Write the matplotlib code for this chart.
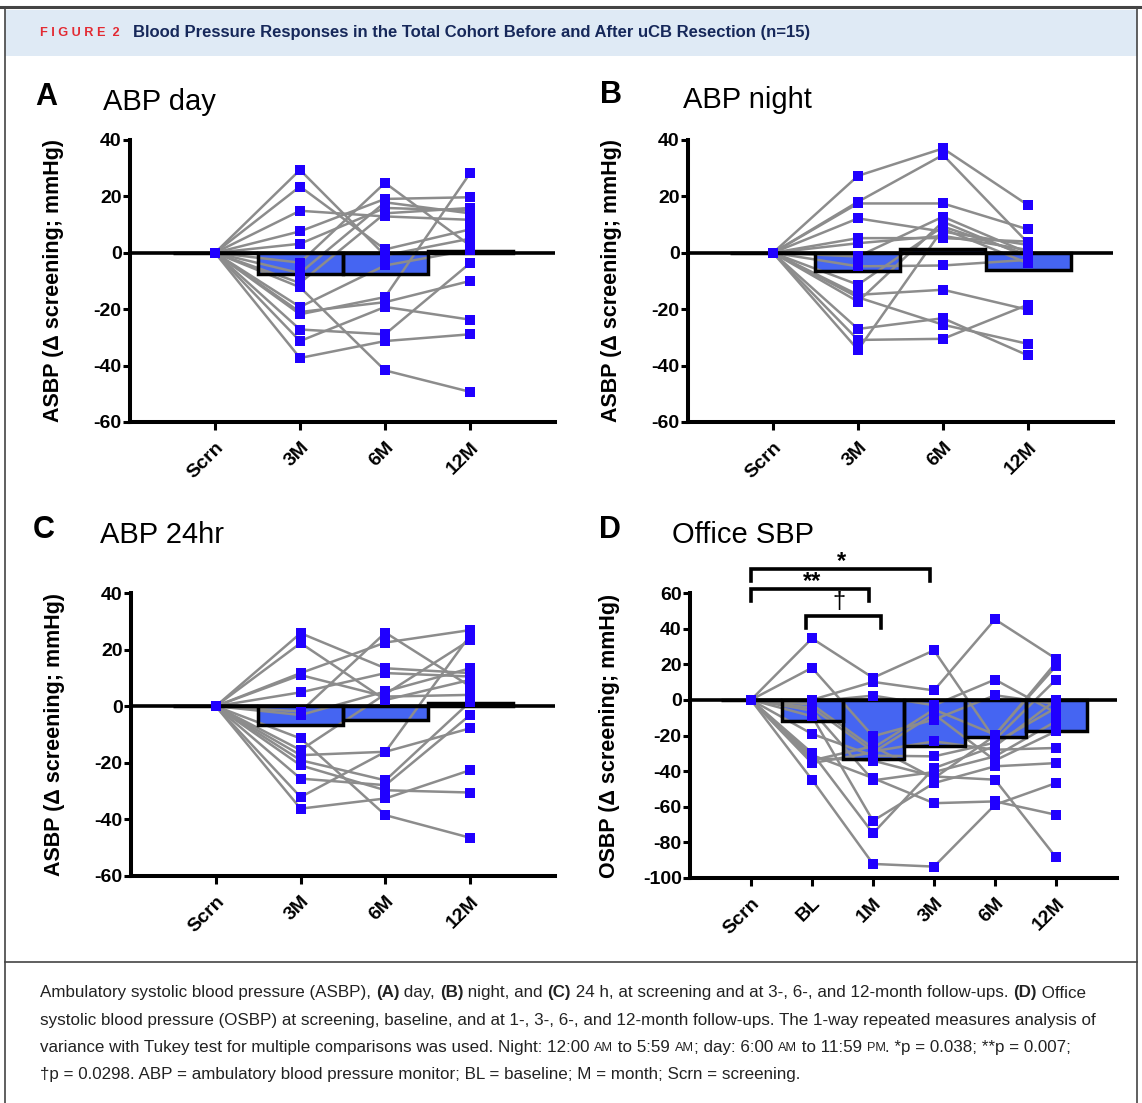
import numpy as np
import matplotlib.pyplot as plt
from matplotlib.lines import Line2D
from matplotlib.patches import Rectangle

plt.rcParams['font.family'] = ['Liberation Sans', 'DejaVu Sans']

W, H = 1142, 1103

# categories
cats_abp = ['Scrn', '3M', '6M', '12M']
cats_office = ['Scrn', 'BL', '1M', '3M', '6M', '12M']

# A: ABP day, change from screening (one entry per patient)
day_3m = [29.4, 23.5, 14.9, 7.6, 3.2, -3.5, -7.2, -10.7, -12.2, -19.2, -21.0, -21.8, -27.2, -31.3, -37.3]
day_6m = [-0.9, 1.2, 12.9, 19.1, 15.9, 24.8, 17.9, 14.0, -41.7, -4.5, -17.5, -15.7, -28.9, -19.2, -31.3]
day_12m = [5.0, 8.3, 11.7, 19.7, 15.0, 2.6, 14.0, 15.9, -49.3, 1.0, -10.0, 28.2, -3.7, -23.7, -28.9]
day_bars = [0, -7.5, -7.5, 0.5]

# B: ABP night
night_3m = [27.3, 18.1, 17.5, 12.2, 5.2, 3.4, -1.3, -4.8, -11.3, -14.9, -15.8, -17.3, -27.0, -30.9, -34.4]
night_6m = [37.0, 34.7, 17.5, 7.5, 5.2, 6.0, 12.8, -4.5, 9.3, -13.1, -25.5, 11.0, -23.2, -30.5, 8.5]
night_12m = [16.9, 3.5, 8.3, 2.8, 4.0, 1.0, 0.0, -2.5, -0.7, -20.2, -32.3, -1.5, -36.4, -18.4, -3.7]
night_bars = [0, -6.5, 1.5, -6.0]

# C: ABP 24hr
h24_3m = [25.8, 22.3, 11.7, 11.0, 4.9, -1.9, -3.1, -11.4, -15.5, -17.3, -19.1, -20.9, -25.6, -32.1, -36.2]
h24_6m = [13.4, 2.2, 22.5, 3.4, 11.7, 26.0, 5.2, -38.5, 4.3, -16.1, -26.2, -29.7, -27.9, -16.1, -32.6]
h24_12m = [11.7, 9.3, 26.9, 4.0, 10.5, 7.0, 13.4, -46.5, 23.4, -7.8, 1.6, -30.5, -3.1, 25.1, -22.6]
h24_bars = [0, -6.5, -5.0, 1.2]

# D: office SBP
off_bl = [34.5, 18.0, 0.0, -1.0, -2.6, -4.5, -6.0, -9.2, -19.1, -29.8, -32.6, -35.5, -44.8, -31.0, -34.0]
off_1m = [12.4, -20.4, 10.1, 2.4, -27.0, -28.9, -45.2, -67.9, -31.3, -74.9, -34.1, -29.5, -92.1, -43.9, -26.0]
off_3m = [27.8, -11.1, 5.3, -3.0, -5.4, -23.3, -40.5, -46.7, -31.7, -38.3, -43.0, -8.0, -93.6, -58.0, -44.0]
off_6m = [-22.3, 2.6, 45.2, 11.4, -19.5, -28.0, -31.7, -37.3, -24.0, -26.0, -44.8, -34.0, -58.9, -57.0, -20.0]
off_12m = [11.4, -2.3, 23.1, -7.3, 19.0, -27.0, -12.0, -35.5, -4.5, 0.0, -88.4, -17.6, -46.7, -64.5, 21.0]
off_bars = [0, -12, -33, -26, -21, -17.5]

# significance brackets in D: (from, to, height, label, label x, label baseline)
brackets = [(0, 2.93, 73.6, '*', 1.48, 74.3),
            (0, 1.93, 62.4, '**', 1.0, 63.0),
            (0.9, 2.13, 47.2, '\u2020', 1.44, 51.7)]

BAR = '#4565F2'
DOT = '#2000FF'
GREY = '#8C8C8C'

fig = plt.figure(figsize=(W / 100, H / 100), dpi=100)


def fx(px):
    return px / W


def fy(py):
    return 1 - py / H


def panel(rect, cats, series, bars, ylim, yticks, ylabel, lab_x):
    ax = fig.add_axes(rect)
    n = len(cats)
    x = np.arange(n)
    vals = np.column_stack([np.zeros(len(series[0]))] + [np.array(s) for s in series])
    ax.bar(x, bars, width=1.0, color=BAR, edgecolor='none', zorder=2)
    ax.bar(x, bars, width=1.0, fill=False, edgecolor='black', linewidth=2.5, zorder=3.5)
    for row in vals:
        ax.plot(x, row, color=GREY, lw=1.8, zorder=3)
    for i in range(n):
        ax.plot(np.full(len(vals), i), vals[:, i], 's', ms=6.5, mew=0, color=DOT, zorder=4)
    ax.axhline(0, color='black', lw=2.6, zorder=3.6)
    ax.set_xlim(-1, n)
    ax.set_ylim(*ylim)
    for s in ['top', 'right']:
        ax.spines[s].set_visible(False)
    for s in ['left', 'bottom']:
        ax.spines[s].set_linewidth(2.9)
    ax.set_xticks(x)
    ax.set_xticklabels(cats, rotation=45, ha='right', va='top', rotation_mode='anchor',
                       fontweight='bold', fontsize=14)
    ax.set_yticks(yticks)
    ax.set_yticklabels([str(v) for v in yticks], fontweight='bold', fontsize=14)
    ax.tick_params(axis='y', width=2.2, length=5, pad=1)
    ax.tick_params(axis='x', width=2.2, length=6, pad=6)
    ax.set_ylabel(ylabel, fontweight='bold', fontsize=15.5)
    ax.yaxis.set_label_coords(lab_x, 0.5)
    return ax


ticks_abp = [-60, -40, -20, 0, 20, 40]
ticks_off = [-100, -80, -60, -40, -20, 0, 20, 40, 60]

axA = panel([fx(130), fy(422), fx(425), 282 / H], cats_abp, [day_3m, day_6m, day_12m],
            day_bars, (-60, 40), ticks_abp, 'ASBP (\u0394 screening; mmHg)', -0.155)
axB = panel([fx(688), fy(422), fx(425), 282 / H], cats_abp, [night_3m, night_6m, night_12m],
            night_bars, (-60, 40), ticks_abp, 'ASBP (\u0394 screening; mmHg)', -0.155)
axC = panel([fx(131), fy(876), fx(424), 283 / H], cats_abp, [h24_3m, h24_6m, h24_12m],
            h24_bars, (-60, 40), ticks_abp, 'ASBP (\u0394 screening; mmHg)', -0.155)
axD = panel([fx(690), fy(878), fx(427), 285 / H], cats_office,
            [off_bl, off_1m, off_3m, off_6m, off_12m],
            off_bars, (-100, 60), ticks_off, 'OSBP (\u0394 screening; mmHg)', -0.165)

for x1, x2, y, lab, lx, ly in brackets:
    axD.plot([x1, x1, x2, x2], [y - 6.7, y, y, y - 6.7], color='black', lw=2.6,
             clip_on=False, solid_joinstyle='miter')
    weight = 'normal' if lab == '\u2020' else 'bold'
    axD.text(lx, ly, lab, ha='center', va='baseline', fontsize=17, fontweight=weight)

# panel letters and titles
for px, py, letter, tx, title in [(35, 97, 'A', 103, 'ABP day'), (600, 95, 'B', 683, 'ABP night'),
                                  (33, 530, 'C', 100, 'ABP 24hr'), (599, 530, 'D', 672, 'Office SBP')]:
    fig.text(fx(px), fy(py), letter, fontsize=22, fontweight='bold', va='center')
    fig.text(fx(tx), fy(py + 5), title, fontsize=21, va='center')

# frame and header band
fig.add_artist(Rectangle((fx(5), fy(56)), fx(1132), 46 / H, transform=fig.transFigure,
                         facecolor='#DFEAF5', edgecolor='none'))
fig.add_artist(Line2D([0, 1], [fy(7), fy(7)], color='#444444', lw=2.2))
fig.add_artist(Line2D([fx(5), fx(5)], [fy(8), 0], color='#444444', lw=1.2))
fig.add_artist(Line2D([fx(1137), fx(1137)], [fy(8), 0], color='#444444', lw=1.2))
fig.add_artist(Line2D([fx(5), fx(1137)], [fy(962), fy(962)], color='#444444', lw=1.2))

renderer = fig.canvas.get_renderer()


def runs(x, y, pieces, size, color):
    for s, weight, scale in pieces:
        t = fig.text(fx(x), fy(y), s, fontsize=size * scale, fontweight=weight, color=color,
                     va='center')
        x += t.get_window_extent(renderer).width


runs(40, 33, [('F I G U R E  2', 'bold', 1.0)], 9.2, '#E32B33')
runs(133, 33, [('Blood Pressure Responses in the Total Cohort Before and After uCB Resection (n=15)',
                'bold', 1.0)], 12, '#16285A')

cap = [
    [('Ambulatory systolic blood pressure (ASBP), ', 'normal', 1), ('(A)', 'bold', 1), (' day, ', 'normal', 1),
     ('(B)', 'bold', 1), (' night, and ', 'normal', 1), ('(C)', 'bold', 1),
     (' 24 h, at screening and at 3-, 6-, and 12-month follow-ups. ', 'normal', 1), ('(D)', 'bold', 1),
     (' Office', 'normal', 1)],
    [('systolic blood pressure (OSBP) at screening, baseline, and at 1-, 3-, 6-, and 12-month follow-ups. '
      'The 1-way repeated measures analysis of', 'normal', 1)],
    [('variance with Tukey test for multiple comparisons was used. Night: 12:00 ', 'normal', 1),
     ('AM', 'normal', 0.75), (' to 5:59 ', 'normal', 1), ('AM', 'normal', 0.75), ('; day: 6:00 ', 'normal', 1),
     ('AM', 'normal', 0.75), (' to 11:59 ', 'normal', 1), ('PM', 'normal', 0.75),
     ('. *p = 0.038; **p = 0.007;', 'normal', 1)],
    [('\u2020p = 0.0298. ABP = ambulatory blood pressure monitor; BL = baseline; M = month; '
      'Scrn = screening.', 'normal', 1)],
]
for i, line in enumerate(cap):
    runs(40, 993 + i * 27.3, line, 12.25, '#222222')

fig.savefig('out.png', dpi=100)
